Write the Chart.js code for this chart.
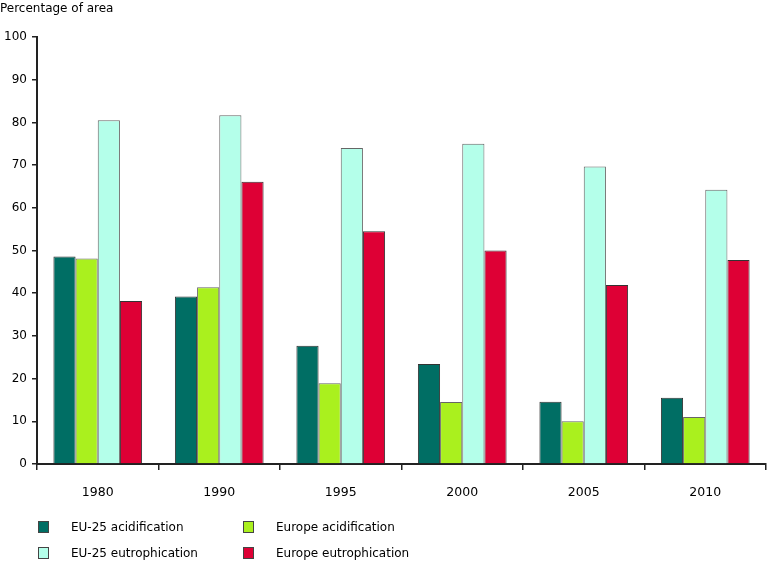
<!DOCTYPE html>
<html>
<head>
<meta charset="utf-8">
<script src="https://cdn.jsdelivr.net/npm/chart.js@4/dist/chart.umd.min.js"></script>
<style>
  body { margin:0; background:#fff; font-family:"DejaVu Sans", Verdana, sans-serif; }
  #wrap { position:relative; width:768px; height:561px; }
  #title { position:absolute; left:0; top:1px; font-size:12px; color:#000; }
  .legend { position:absolute; font-size:12px; color:#000; }
  .legend .box { position:absolute; width:9px; height:10px; border:1px solid #444; top:1px; }
  .legend span.txt { position:absolute; white-space:nowrap; }
</style>
</head>
<body>
<div id="wrap">
  <canvas id="chart" width="768" height="561"></canvas>
  <div id="title">Percentage of area</div>
  <div id="legend"></div>
</div>
<script>
const years = ["1980", "1990", "1995", "2000", "2005", "2010"];
const eu25Acid = [48.6, 39.2, 27.7, 23.4, 14.6, 15.5];
const europeAcid = [48.1, 41.4, 18.9, 14.5, 10.0, 11.0];
const eu25Eutro = [80.5, 81.7, 74.0, 75.0, 69.7, 64.2];
const europeEutro = [38.2, 66.1, 54.5, 50.0, 41.9, 47.8];
const yTicks = [0, 10, 20, 30, 40, 50, 60, 70, 80, 90, 100];

const series = [
  {label:"EU-25 acidification", data:eu25Acid, color:"#006e64", border:"#333"},
  {label:"Europe acidification", data:europeAcid, color:"#aaf01e", border:"#666"},
  {label:"EU-25 eutrophication", data:eu25Eutro, color:"#b4ffea", border:"#666"},
  {label:"Europe eutrophication", data:europeEutro, color:"#de0035", border:"#333"},
];

// legend in two columns under the chart
const legendPos = [[38, 520], [243, 520], [38, 546], [243, 546]];
const legendEl = document.getElementById("legend");
series.forEach((s, i) => {
  const d = document.createElement("div");
  d.className = "legend";
  d.style.left = legendPos[i][0] + "px";
  d.style.top = legendPos[i][1] + "px";
  d.innerHTML = `<div class="box" style="background:${s.color}"></div><span class="txt" style="left:33px">${s.label}</span>`;
  legendEl.appendChild(d);
});

const ctx = document.getElementById("chart").getContext("2d");
new Chart(ctx, {
  type: 'bar',
  data: {
    labels: years,
    datasets: series.map(s => ({
      label: s.label,
      data: s.data,
      backgroundColor: s.color,
      borderColor: s.border,
      borderWidth: 1,
      categoryPercentage: 0.73,
      barPercentage: 1.0,
    }))
  },
  options: {
    responsive: false,
    animation: false,
    layout: {padding: {left: 0, right: 2, top: 37, bottom: 57}},
    plugins: {legend: {display: false}, tooltip: {enabled: false}},
    scales: {
      x: {
        grid: {display: true, drawOnChartArea: false, drawTicks: true, tickLength: 6, color: "#222", lineWidth: 1.5, offset: true},
        border: {display: true, color: "#222", width: 2},
        ticks: {color: "#000", font: {family: "DejaVu Sans", size: 12.5}, padding: 15},
        afterFit: scale => { scale.height = 40; }
      },
      y: {
        min: 0, max: 100,
        afterBuildTicks: scale => { scale.ticks = yTicks.map(v => ({value: v})); },
        grid: {display: true, drawOnChartArea: false, drawTicks: true, tickLength: 5, color: "#222", lineWidth: 1.5},
        border: {display: true, color: "#222", width: 2},
        ticks: {color: "#000", font: {family: "DejaVu Sans", size: 12}, padding: 5},
        afterFit: scale => { scale.width = 37; }
      }
    }
  }
});
</script>
</body>
</html>
